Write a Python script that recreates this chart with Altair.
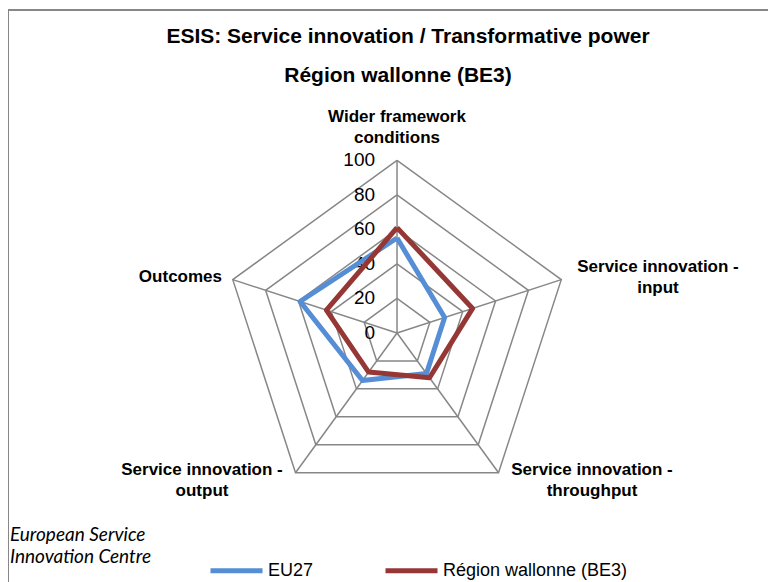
import math
import altair as alt
import pandas as pd

# ---- data ----
categories = [
    "Wider framework\nconditions",
    "Service innovation -\ninput",
    "Service innovation -\nthroughput",
    "Service innovation -\noutput",
    "Outcomes",
]
series_names = ["EU27", "Région wallonne (BE3)"]
eu27 = [55, 29, 29, 34, 59]
be3 = [61, 46, 32, 28, 43]
ticks = [0, 20, 40, 60, 80, 100]
colors = ["#558ED5", "#953735"]

FONT = "Liberation Sans"
N = len(categories)

# ---- tables built from the arrays ----
rows = []
for name, vals in zip(series_names, [eu27, be3]):
    for i in range(N + 1):
        rows.append({"series": name, "idx": i, "value": vals[i % N]})
series_df = pd.DataFrame(rows)

grid_rows = []
for t in ticks[1:]:
    for i in range(N + 1):
        grid_rows.append({"level": t, "idx": i, "value": t})
grid_df = pd.DataFrame(grid_rows)

spoke_df = pd.DataFrame({"idx": list(range(N)), "value": [ticks[-1]] * N})
tick_df = pd.DataFrame({"value": ticks})

xscale = alt.Scale(domain=[-225.25, 214.8], nice=False, zero=False)
yscale = alt.Scale(domain=[-144.2, 188.2], nice=False, zero=False)


def polar(chart):
    return chart.transform_calculate(
        angle=f"datum.idx * 2 * PI / {N}"
    ).transform_calculate(
        x="datum.value * sin(datum.angle)",
        y="datum.value * cos(datum.angle)",
        zx="0",
        zy="0",
    )


grid = polar(alt.Chart(grid_df)).mark_line(
    color="#878787", strokeWidth=1.5
).encode(
    x=alt.X("x:Q", scale=xscale, axis=None),
    y=alt.Y("y:Q", scale=yscale, axis=None),
    detail="level:N",
    order="idx:Q",
)

spokes = polar(alt.Chart(spoke_df)).mark_rule(
    color="#878787", strokeWidth=1.5
).encode(
    x=alt.X("zx:Q", scale=xscale, axis=None),
    y=alt.Y("zy:Q", scale=yscale, axis=None),
    x2="x:Q",
    y2="y:Q",
)

tick_labels = alt.Chart(tick_df).transform_calculate(zx="0").mark_text(
    align="right", baseline="middle", dx=-22, fontSize=19, font=FONT, color="#000000"
).encode(
    x=alt.X("zx:Q", scale=xscale, axis=None),
    y=alt.Y("value:Q", scale=yscale, axis=None),
    text="value:Q",
)

lines = polar(alt.Chart(series_df)).mark_line(
    strokeWidth=5, strokeJoin="round"
).encode(
    x=alt.X("x:Q", scale=xscale, axis=None),
    y=alt.Y("y:Q", scale=yscale, axis=None),
    color=alt.Color(
        "series:N",
        scale=alt.Scale(domain=series_names, range=colors),
        sort=series_names,
        legend=alt.Legend(
            title=None,
            orient="none",
            legendX=200,
            legendY=534,
            direction="horizontal",
            symbolType="stroke",
            symbolSize=2704,
            symbolStrokeWidth=5,
            labelFontSize=18,
            labelFont=FONT,
            labelColor="#000000",
            labelOffset=3,
            labelLimit=400,
            columnPadding=61,
        ),
    ),
    detail="series:N",
    order="idx:Q",
)

one = alt.Data(values=[{}])

# axis category labels (positions in pixels, first-line centre)
label_pos = [
    (389, 109, "center"),
    (650, 259, "center"),
    (584, 462, "center"),
    (194, 462, "center"),
    (214, 269, "right"),
]
cat_layers = []
for cat, (px, py, al) in zip(categories, label_pos):
    cat_layers.append(
        alt.Chart(one).mark_text(
            align=al, baseline="middle", fontSize=17, fontWeight="bold",
            font=FONT, lineBreak="\n", lineHeight=21, color="#000000",
        ).encode(x=alt.value(px), y=alt.value(py), text=alt.value(cat))
    )

title1 = alt.Chart(one).mark_text(
    align="center", baseline="middle", fontSize=21, fontWeight="bold", font=FONT, color="#000000"
).encode(x=alt.value(400), y=alt.value(29),
         text=alt.value("ESIS:  Service innovation / Transformative power"))
title2 = alt.Chart(one).mark_text(
    align="center", baseline="middle", fontSize=21, fontWeight="bold", font=FONT, color="#000000"
).encode(x=alt.value(390), y=alt.value(68), text=alt.value("Région wallonne (BE3)"))

source = alt.Chart(one).mark_text(
    align="left", baseline="middle", fontSize=19, fontStyle="italic", font="Lato",
    lineBreak="\n", lineHeight=22, color="#000000",
).encode(x=alt.value(2), y=alt.value(527),
         text=alt.value("European Service\nInnovation Centre"))

border = alt.Chart(one).mark_rect(
    fill=None, stroke="#878787", strokeWidth=2
).encode(x=alt.value(0), y=alt.value(2), x2=alt.value(900), y2=alt.value(800))

chart = alt.layer(
    border, grid, spokes, tick_labels, lines, *cat_layers, title1, title2, source
).properties(
    width=760, height=574, autosize=alt.AutoSizeParams(type="none"), padding=0,
    background="white",
).configure_view(stroke=None)

chart.save("out.html", embed_options={"renderer": "svg", "actions": False})
